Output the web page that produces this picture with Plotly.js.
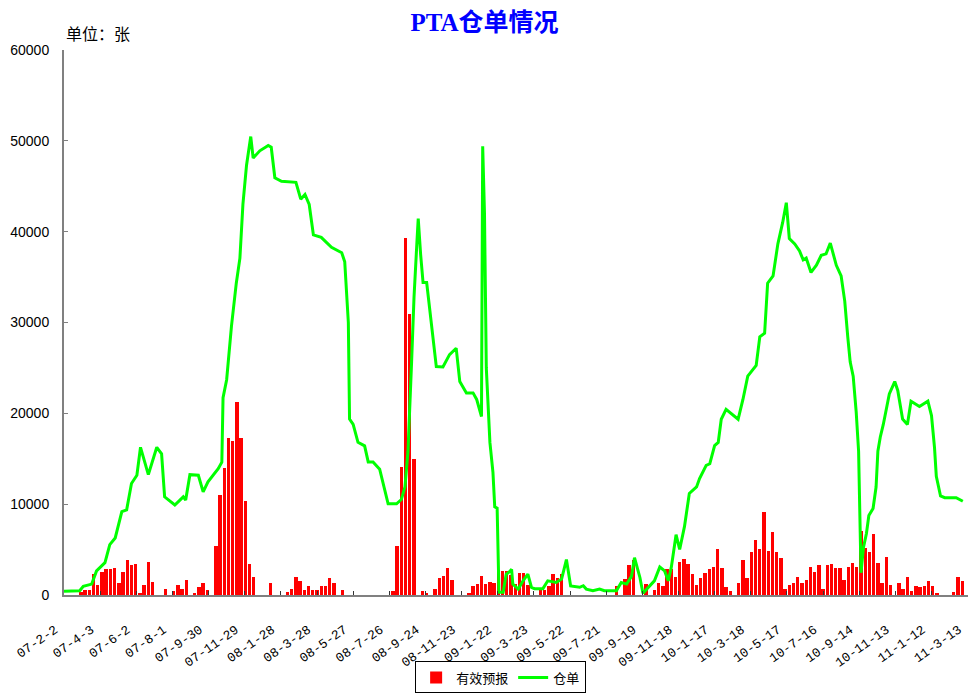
<!DOCTYPE html>
<html><head><meta charset="utf-8">
<script src="https://cdn.plot.ly/plotly-3.0.1.min.js"></script>
<style>html,body{margin:0;padding:0;background:#fff}#c{width:969px;height:695px}</style>
</head><body><div id="c"></div>
<script>
// x axis: days since 2007-02-02; labels every 60 days
const tickDays = [0,60,120,180,240,300,360,420,480,540,600,660,720,780,840,900,960,1020,1080,1140,1200,1260,1320,1380,1440,1500];
const tickLabels = ["07-2-2","07-4-3","07-6-2","07-8-1","07-9-30","07-11-29","08-1-28","08-3-28","08-5-27","08-7-26","08-9-24","08-11-23","09-1-22","09-3-23","09-5-22","09-7-21","09-9-19","09-11-18","10-1-17","10-3-18","10-5-17","10-7-16","10-9-14","10-11-13","11-1-12","11-3-13"];

// 有效预报: weekly values, week 0 = 2007-02-02
const forecastWeekly = [
0,0,0,0,300,500,500,2290,1120,2540,
2830,2830,3010,1270,2540,3850,3270,3380,200,1090,
3670,1380,0,0,650,0,400,1100,650,1670,
0,200,870,1270,500,0,5450,11000,14020,17250,
16920,21300,17250,10380,3450,2000,0,0,0,1300,
0,0,0,300,650,2000,1560,500,1000,500,
500,1000,1000,1820,1270,0,500,0,0,0,
0,0,0,0,0,0,0,0,450,5450,
14070,39250,30970,14970,0,470,250,0,620,1920,
2080,2920,1600,0,0,0,180,1040,1190,2070,
1190,1470,1300,2400,2650,2650,2240,1260,2400,2400,
1060,0,0,600,600,950,2350,1870,2270,0,
0,0,0,0,0,0,0,0,0,0,
0,1000,0,1800,3350,3900,0,0,1200,0,
550,1300,950,2830,2830,2000,3670,3990,3450,2290,
1130,1850,2400,2830,3120,5050,3010,830,400,0,
1270,3880,1850,4720,6060,5050,9110,4830,6930,4720,
4030,650,1130,1310,2000,1270,1700,3120,2540,3270,
650,3300,3380,3010,3010,1700,3120,3560,3120,7080,
5190,4720,6750,3560,1270,4170,1130,0,1270,650,
2000,400,940,830,940,1560,940,220,0,0,
0,330,2000,1560];

// 仓单: vertices (day offset, value)
const stockDays = [0,26,32,46,54,68,76,85,96,104,112,121,127,140,154,162,167,184,198,202,209,223,231,239,256,262,264,270,278,286,292,297,303,310,314,325,339,344,350,361,385,393,400,407,414,427,444,461,466,472,474,480,488,499,505,513,524,530,538,552,560,566,571,577,581,586,588,592,596,602,607,618,629,640,651,657,668,679,685,693,695,698,701,704,707,712,715,719,722,729,734,740,743,745,754,762,770,776,781,795,803,817,826,834,841,856,862,867,878,889,897,917,925,934,942,947,956,961,972,980,989,997,1003,1008,1016,1022,1030,1038,1050,1055,1066,1072,1080,1086,1091,1099,1119,1127,1135,1149,1155,1163,1168,1177,1185,1193,1199,1204,1213,1221,1227,1232,1240,1249,1257,1265,1272,1276,1282,1290,1296,1301,1305,1310,1315,1319,1321,1323,1327,1332,1336,1343,1348,1351,1355,1360,1370,1379,1384,1392,1400,1406,1420,1434,1440,1445,1448,1455,1462,1481,1492];
const stockValues = [400,470,950,1200,2650,3560,5550,6280,9180,9370,12270,13180,16260,13250,16260,15540,10810,9910,10810,10450,13250,13180,11360,12450,13900,14620,21730,23700,29600,34330,37090,43000,47320,50470,48110,48900,49490,49290,45940,45550,45430,43580,44100,43000,39650,39370,38270,37680,36690,30000,19370,18780,16810,16420,14650,14650,13860,12280,10040,10040,10510,11890,15830,25670,32760,39060,41450,37480,34400,34400,31570,25150,25100,26460,27170,23500,22250,22250,21530,19650,49400,42000,25000,20070,16800,13540,9700,9550,290,290,2290,2600,2830,1200,650,1560,2290,840,700,700,1560,1380,1750,3900,1000,850,1020,650,470,650,470,470,1380,1200,2050,4100,1930,190,1020,1560,3080,2650,1560,3010,6640,5010,7550,11180,11900,12820,14270,14450,16440,16800,19350,20440,19350,21530,24090,25280,28430,28820,34330,35120,38660,41020,43190,39250,38660,37870,36890,37090,35510,36300,37400,37560,38740,37870,36300,35120,32360,28430,25670,24090,20160,15830,10710,2440,5200,6770,8740,9530,11890,15830,17400,18780,22130,23500,22520,19370,18780,21340,20750,21340,19760,16220,13070,10900,10710,10710,10320];

const traces = [
  {type:'bar', name:'有效预报', x0:0, dx:7, y:forecastWeekly, width:5.6,
   marker:{color:'#ff0000', line:{width:0}}},
  {type:'scatter', mode:'lines', name:'仓单', x:stockDays, y:stockValues,
   line:{color:'#00ff00', width:3}}
];

const layout = {
  width:969, height:695,
  margin:{l:64, r:1, t:50, b:94},
  paper_bgcolor:'#ffffff', plot_bgcolor:'#ffffff',
  showlegend:true, bargap:0,
  title:{text:'<b>PTA仓单情况</b>', x:0.5, xanchor:'center', yref:'container', y:0.968, yanchor:'middle',
         font:{family:'Liberation Serif, Noto Sans CJK SC', size:25, color:'#0000ff'}},
  xaxis:{type:'linear', range:[0,1500.6], tickmode:'array', tickvals:tickDays, ticktext:tickLabels,
         tickangle:-35, ticks:'inside', ticklen:4, tickcolor:'#333', showgrid:false, zeroline:false,
         showline:true, linecolor:'#808080', linewidth:2, ticklabelstandoff:20, ticklabelshift:-9,
         tickfont:{family:'Liberation Mono, DejaVu Sans Mono', size:13, color:'#000'}},
  yaxis:{range:[0,60000], tickvals:[0,10000,20000,30000,40000,50000,60000], ticktext:['0','10000','20000','30000','40000','50000','60000'],
         ticks:'inside', ticklen:4, tickcolor:'#808080', showgrid:false, zeroline:false,
         showline:true, linecolor:'#808080', linewidth:2, ticklabelstandoff:10,
         tickfont:{family:'Liberation Sans, Arial', size:14, color:'#000'}},
  legend:{orientation:'h', x:0.483, xanchor:'center', y:-0.122, yanchor:'top',
          bordercolor:'#000', borderwidth:1, bgcolor:'#fff',
          font:{family:'Noto Sans CJK SC', size:13, color:'#000'}},
  annotations:[{text:'单位：张', xref:'paper', yref:'paper', x:0.0, y:1.031, xanchor:'left', yanchor:'middle',
                showarrow:false, font:{family:'Noto Sans CJK SC', size:16, color:'#000'}}]
};
Plotly.newPlot('c', traces, layout, {displayModeBar:false, staticPlot:true});
</script></body></html>
